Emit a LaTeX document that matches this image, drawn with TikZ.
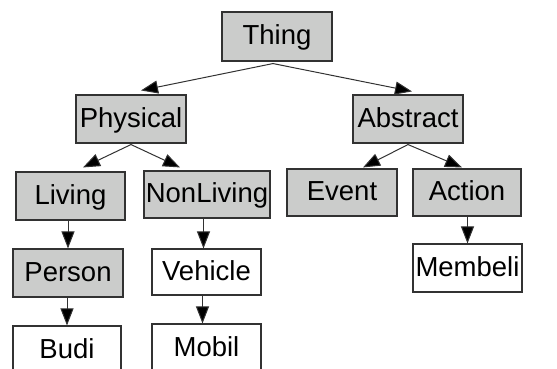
\documentclass[tikz,border=0pt]{standalone}
\usepackage{fontspec}
\setmainfont{Liberation Sans}
\usetikzlibrary{arrows.meta}
\definecolor{boxgray}{RGB}{203,204,203}
\definecolor{edge}{RGB}{50,50,50}
\begin{document}
\begin{tikzpicture}[x=1pt,y=-1pt,
  concept/.style={draw=edge, line width=1.1pt, fill=boxgray, inner sep=0pt,
    minimum width=110pt, minimum height=48pt, text height=19.5pt, text depth=3pt,
    font=\fontsize{27.5}{32}\selectfont},
  inst/.style={concept, fill=white},
  link/.style={draw=edge, line width=1pt, -{Triangle[length=17pt,width=13pt,fill=black]}}]
\useasboundingbox (0,0) rectangle (557,369);
\clip (0,0) rectangle (557,369);
\node[concept, minimum height=49pt] (thing) at (277,36.5) {Thing};
\node[concept] (physical) at (131,119) {Physical};
\node[concept] (abstract) at (408,119) {Abstract};
\node[concept, minimum width=109pt] (living) at (70.5,196) {Living};
\node[concept, minimum width=126pt, minimum height=47pt] (nonliving) at (207,194.5) {NonLiving};
\node[concept, minimum height=47pt] (event) at (342,192.5) {Event};
\node[concept, minimum width=108pt, minimum height=47pt] (action) at (467,192.5) {Action};
\node[concept] (person) at (68,273) {Person};
\node[inst, minimum width=109pt, minimum height=46pt] (vehicle) at (206.5,272) {Vehicle};
\node[inst, minimum width=109pt] (membeli) at (467.5,268) {Membeli};
\node[inst, minimum width=108pt] (budi) at (67,350) {Budi};
\node[inst, minimum width=109pt] (mobil) at (206.5,348) {Mobil};

\draw[link] ([shift={(-4,2)}]thing.south) -- ([shift={(10,-4)}]physical.north);
\draw[link] ([shift={(-4,2)}]thing.south) -- ([shift={(4,-3)}]abstract.north);
\draw[link] ([shift={(0,1)}]physical.south) -- ([shift={(12.5,-4)}]living.north);
\draw[link] ([shift={(0,1)}]physical.south) -- ([shift={(-27,-3)}]nonliving.north);
\draw[link] ([shift={(0,1)}]abstract.south) -- ([shift={(21,-1)}]event.north);
\draw[link] ([shift={(0,1)}]abstract.south) -- ([shift={(-5,-1)}]action.north);
\draw[link] (person.north |- living.south) -- (person.north);
\draw[link] ([xshift=-3pt]vehicle.north |- nonliving.south) -- ([xshift=-3pt]vehicle.north);
\draw[link] (membeli.north |- action.south) -- (membeli.north);
\draw[link] (budi.north |- person.south) -- (budi.north);
\draw[link] ([xshift=-4pt]mobil.north |- vehicle.south) -- ([xshift=-4pt]mobil.north);
\end{tikzpicture}
\end{document}
